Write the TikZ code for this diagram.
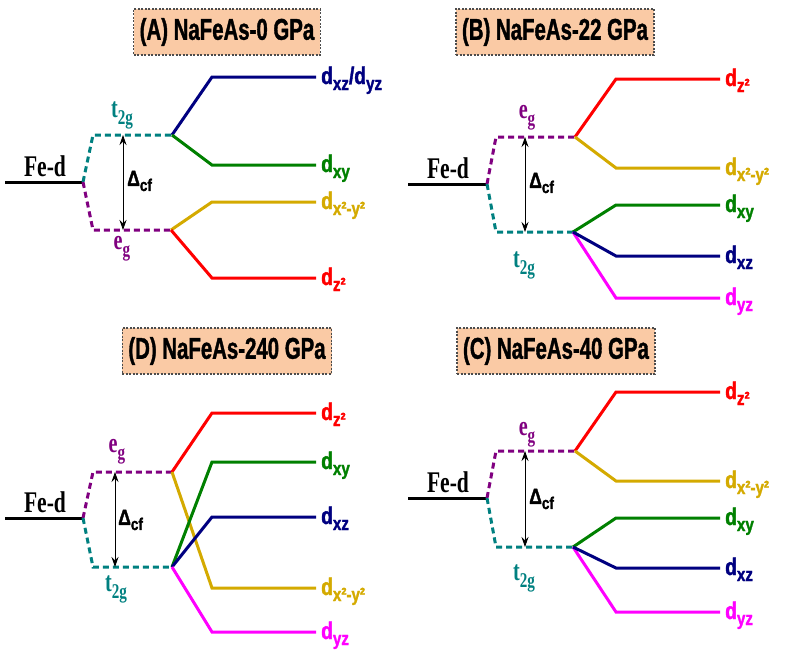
\documentclass[tikz,border=0pt]{standalone}
\usepackage{fontspec}
\setmainfont{Liberation Serif}
\newfontfamily\headfont[FakeStretch=0.68,BoldFeatures={FakeBold=1.2}]{Liberation Sans}
\newfontfamily\orbfont[FakeStretch=0.8,BoldFeatures={FakeBold=1.5}]{Liberation Sans}
\newfontfamily\levelfont[FakeStretch=0.72]{Liberation Serif}
\usetikzlibrary{arrows.meta}

\definecolor{peach}{RGB}{250,202,165}
\definecolor{tealc}{RGB}{0,128,128}
\definecolor{purp}{RGB}{128,0,128}
\definecolor{navyc}{RGB}{0,0,128}
\definecolor{greenc}{RGB}{0,128,0}
\definecolor{goldc}{RGB}{212,170,0}
\definecolor{redc}{RGB}{255,0,0}
\definecolor{magc}{RGB}{255,0,255}

% lowered subscripts in text fonts
\newcommand{\osub}[1]{\raisebox{-6pt}{\fontsize{19}{19}\selectfont#1}}
\newcommand{\gsub}[1]{\raisebox{-7pt}{\fontsize{21}{21}\selectfont#1}}
\newcommand{\csub}[1]{\raisebox{-5pt}{\fontsize{17}{17}\selectfont#1}}

\begin{document}
\begin{tikzpicture}[x=1pt,y=-1pt,
    titlebox/.style={draw=black!70,line width=1.2pt,dash pattern=on 2pt off 1.5pt,fill=peach,
      minimum height=46pt,inner xsep=6pt,font=\headfont\bfseries\fontsize{30}{30}\selectfont},
    orbline/.style={line width=3pt},
    splitline/.style={line width=3pt,dash pattern=on 6pt off 4pt},
    feline/.style={line width=3pt,black},
    gaparrow/.style={{Stealth[length=10pt,width=7pt]}-{Stealth[length=10pt,width=7pt]},line width=0.8pt},
    orblab/.style={anchor=base west,inner sep=0pt,font=\orbfont\bfseries\fontsize{24}{24}\selectfont},
    fedlab/.style={anchor=base,inner sep=0pt,font=\levelfont\bfseries\fontsize{30}{30}\selectfont},
    symlab/.style={inner sep=0pt,font=\levelfont\bfseries\fontsize{28}{28}\selectfont},
    dcflab/.style={anchor=west,inner sep=0pt,font=\orbfont\bfseries\fontsize{22}{22}\selectfont}]
  \useasboundingbox (0,0) rectangle (789,654);

  % (A) 0 GPa
  \node[titlebox] (A-title) at (227,32) {(A) NaFeAs-0 GPa};
  \coordinate (A-fe0) at (5,182);
  \coordinate (A-fe) at (83,182);
  \coordinate (A-up) at (93,135);
  \coordinate (A-upend) at (172,135);
  \coordinate (A-lo) at (93,230);
  \coordinate (A-loend) at (171,230);
  \coordinate (A-k) at (212,0);
  \coordinate (A-arr) at (123,0);
  \coordinate (A-xz) at (316,77);
  \coordinate (A-xy) at (316,165);
  \coordinate (A-x2) at (316,202);
  \coordinate (A-z2) at (316,278);
  \draw[feline] (A-fe0) -- (A-fe);
  \draw[splitline,tealc] (A-fe) -- (A-up) -- (A-upend);
  \draw[splitline,purp] (A-fe) -- (A-lo) -- (A-loend);
  \draw[orbline,navyc] (A-upend) -- (A-k |- A-xz) -- (A-xz);
  \draw[orbline,greenc] (A-upend) -- (A-k |- A-xy) -- (A-xy);
  \draw[orbline,goldc] (A-loend) -- (A-k |- A-x2) -- (A-x2);
  \draw[orbline,redc] (A-loend) -- (A-k |- A-z2) -- (A-z2);
  \draw[gaparrow] (A-arr |- A-up) -- (A-arr |- A-lo);
  \node[fedlab] (A-fed) at (45,176) {Fe-d};
  \node[symlab,tealc] (A-t2g) at (122,115) {t\gsub{2g}};
  \node[symlab,purp] (A-eg) at (122,249) {e\gsub{g}};
  \node[dcflab] (A-dcf) at (127,181) {Δ\csub{cf}};
  \node[orblab,navyc] (A-xzlab) at ([shift={(5,7)}]A-xz) {d\osub{xz}/d\osub{yz}};
  \node[orblab,greenc] (A-xylab) at ([shift={(5,7)}]A-xy) {d\osub{xy}};
  \node[orblab,goldc] (A-x2lab) at ([shift={(5,7)}]A-x2) {d\osub{x²-y²}};
  \node[orblab,redc] (A-z2lab) at ([shift={(5,7)}]A-z2) {d\osub{z²}};

  % (B) 22 GPa
  \node[titlebox] (B-title) at (555,32) {(B) NaFeAs-22 GPa};
  \coordinate (B-fe0) at (408,184);
  \coordinate (B-fe) at (487,184);
  \coordinate (B-up) at (496,137);
  \coordinate (B-upend) at (575,137);
  \coordinate (B-lo) at (496,232);
  \coordinate (B-loend) at (573,232);
  \coordinate (B-k) at (616,0);
  \coordinate (B-arr) at (525,0);
  \coordinate (B-z2) at (720,79);
  \coordinate (B-x2) at (720,168);
  \coordinate (B-xy) at (720,205);
  \coordinate (B-xz) at (720,256);
  \coordinate (B-yz) at (720,298);
  \draw[feline] (B-fe0) -- (B-fe);
  \draw[splitline,purp] (B-fe) -- (B-up) -- (B-upend);
  \draw[splitline,tealc] (B-fe) -- (B-lo) -- (B-loend);
  \draw[orbline,redc] (B-upend) -- (B-k |- B-z2) -- (B-z2);
  \draw[orbline,goldc] (B-upend) -- (B-k |- B-x2) -- (B-x2);
  \draw[orbline,greenc] (B-loend) -- (B-k |- B-xy) -- (B-xy);
  \draw[orbline,magc] (B-loend) -- (B-k |- B-yz) -- (B-yz);
  \draw[orbline,navyc] (B-loend) -- (B-k |- B-xz) -- (B-xz);
  \draw[gaparrow] (B-arr |- B-up) -- (B-arr |- B-lo);
  \node[fedlab] (B-fed) at (448,178) {Fe-d};
  \node[symlab,purp] (B-eg) at (527,118) {e\gsub{g}};
  \node[symlab,tealc] (B-t2g) at (524,265) {t\gsub{2g}};
  \node[dcflab] (B-dcf) at (529,183) {Δ\csub{cf}};
  \node[orblab,redc] (B-z2lab) at ([shift={(5,7)}]B-z2) {d\osub{z²}};
  \node[orblab,goldc] (B-x2lab) at ([shift={(5,7)}]B-x2) {d\osub{x²-y²}};
  \node[orblab,greenc] (B-xylab) at ([shift={(5,7)}]B-xy) {d\osub{xy}};
  \node[orblab,navyc] (B-xzlab) at ([shift={(5,7)}]B-xz) {d\osub{xz}};
  \node[orblab,magc] (B-yzlab) at ([shift={(5,7)}]B-yz) {d\osub{yz}};

  % (D) 240 GPa
  \node[titlebox] (D-title) at (227,351) {(D) NaFeAs-240 GPa};
  \coordinate (D-fe0) at (5,518);
  \coordinate (D-fe) at (83,518);
  \coordinate (D-up) at (93,472);
  \coordinate (D-upend) at (172,472);
  \coordinate (D-lo) at (93,567);
  \coordinate (D-loend) at (172,567);
  \coordinate (D-k) at (212,0);
  \coordinate (D-arr) at (115,0);
  \coordinate (D-z2) at (316,413);
  \coordinate (D-xy) at (316,462);
  \coordinate (D-xz) at (316,517);
  \coordinate (D-x2) at (316,588);
  \coordinate (D-yz) at (316,632);
  \draw[feline] (D-fe0) -- (D-fe);
  \draw[splitline,purp] (D-fe) -- (D-up) -- (D-upend);
  \draw[splitline,tealc] (D-fe) -- (D-lo) -- (D-loend);
  \draw[orbline,redc] (D-upend) -- (D-k |- D-z2) -- (D-z2);
  \draw[orbline,goldc] (D-upend) -- (D-k |- D-x2) -- (D-x2);
  \draw[orbline,greenc] (D-loend) -- (D-k |- D-xy) -- (D-xy);
  \draw[orbline,navyc] (D-loend) -- (D-k |- D-xz) -- (D-xz);
  \draw[orbline,magc] (D-loend) -- (D-k |- D-yz) -- (D-yz);
  \draw[gaparrow] (D-arr |- D-up) -- (D-arr |- D-lo);
  \node[fedlab] (D-fed) at (45,512) {Fe-d};
  \node[symlab,purp] (D-eg) at (117,452) {e\gsub{g}};
  \node[symlab,tealc] (D-t2g) at (116,589) {t\gsub{2g}};
  \node[dcflab] (D-dcf) at (118,520) {Δ\csub{cf}};
  \node[orblab,redc] (D-z2lab) at ([shift={(5,7)}]D-z2) {d\osub{z²}};
  \node[orblab,greenc] (D-xylab) at ([shift={(5,7)}]D-xy) {d\osub{xy}};
  \node[orblab,navyc] (D-xzlab) at ([shift={(5,7)}]D-xz) {d\osub{xz}};
  \node[orblab,goldc] (D-x2lab) at ([shift={(5,7)}]D-x2) {d\osub{x²-y²}};
  \node[orblab,magc] (D-yzlab) at ([shift={(5,7)}]D-yz) {d\osub{yz}};

  % (C) 40 GPa
  \node[titlebox] (C-title) at (556,351) {(C) NaFeAs-40 GPa};
  \coordinate (C-fe0) at (408,498);
  \coordinate (C-fe) at (487,498);
  \coordinate (C-up) at (496,451);
  \coordinate (C-upend) at (575,451);
  \coordinate (C-lo) at (496,547);
  \coordinate (C-loend) at (573,547);
  \coordinate (C-k) at (616,0);
  \coordinate (C-arr) at (525,0);
  \coordinate (C-z2) at (720,392);
  \coordinate (C-x2) at (720,481);
  \coordinate (C-xy) at (720,518);
  \coordinate (C-xz) at (720,568);
  \coordinate (C-yz) at (720,612);
  \draw[feline] (C-fe0) -- (C-fe);
  \draw[splitline,purp] (C-fe) -- (C-up) -- (C-upend);
  \draw[splitline,tealc] (C-fe) -- (C-lo) -- (C-loend);
  \draw[orbline,redc] (C-upend) -- (C-k |- C-z2) -- (C-z2);
  \draw[orbline,goldc] (C-upend) -- (C-k |- C-x2) -- (C-x2);
  \draw[orbline,greenc] (C-loend) -- (C-k |- C-xy) -- (C-xy);
  \draw[orbline,magc] (C-loend) -- (C-k |- C-yz) -- (C-yz);
  \draw[orbline,navyc] (C-loend) -- (C-k |- C-xz) -- (C-xz);
  \draw[gaparrow] (C-arr |- C-up) -- (C-arr |- C-lo);
  \node[fedlab] (C-fed) at (448,492) {Fe-d};
  \node[symlab,purp] (C-eg) at (527,435) {e\gsub{g}};
  \node[symlab,tealc] (C-t2g) at (524,578) {t\gsub{2g}};
  \node[dcflab] (C-dcf) at (529,499) {Δ\csub{cf}};
  \node[orblab,redc] (C-z2lab) at ([shift={(5,7)}]C-z2) {d\osub{z²}};
  \node[orblab,goldc] (C-x2lab) at ([shift={(5,7)}]C-x2) {d\osub{x²-y²}};
  \node[orblab,greenc] (C-xylab) at ([shift={(5,7)}]C-xy) {d\osub{xy}};
  \node[orblab,navyc] (C-xzlab) at ([shift={(5,7)}]C-xz) {d\osub{xz}};
  \node[orblab,magc] (C-yzlab) at ([shift={(5,7)}]C-yz) {d\osub{yz}};
\end{tikzpicture}
\end{document}
